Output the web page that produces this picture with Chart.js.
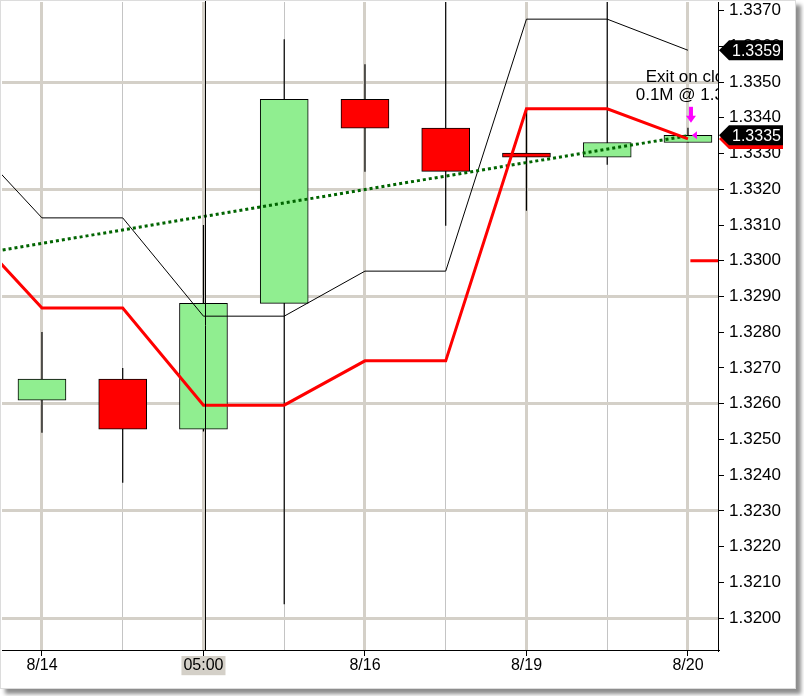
<!DOCTYPE html>
<html>
<head>
<meta charset="utf-8">
<title>Candles 8/14 - 8/20</title>
<script src="https://cdn.jsdelivr.net/npm/chart.js@4"></script>
<style>
  html, body { margin: 0; padding: 0; background: #fff; }
  #panel { position: absolute; left: 0; top: 0; width: 794px; height: 687px;
           border: 1px solid #dcdcdc; background: #fff;
           box-shadow: 5px 5px 4px rgba(0, 0, 0, 0.45); }
  canvas { display: block; }
</style>
</head>
<body>
<div id="panel"><canvas id="chart" width="794" height="687"></canvas></div>
<script>
// one entry per bar, blank = unlabeled bar (thin grid line)
const tickLabels = ['8/14', '', '05:00', '', '8/16', '', '8/19', '', '8/20'];
const openVals  = [1.32610, 1.32669, 1.32529, 1.32881, 1.33452, 1.33371, 1.33301, 1.33290, 1.33331];
const highVals  = [1.32801, 1.32700, 1.33100, 1.33620, 1.33550, 1.33780, 1.33422, 1.33780, 1.33372];
const lowVals   = [1.32519, 1.32379, 1.32522, 1.32039, 1.33249, 1.33098, 1.33140, 1.33269, 1.33331];
const closeVals = [1.32669, 1.32529, 1.32881, 1.33452, 1.33371, 1.33250, 1.33290, 1.33331, 1.33351];

// indicator lines; first value is the bar before 8/14 (off the left edge)
const lineIdx   = [-1, 0, 1, 2, 3, 4, 5, 6, 7, 8];
const upperBand = [1.33363, 1.33120, 1.33120, 1.32845, 1.32845, 1.32971, 1.32971, 1.33676, 1.33676, 1.33589];
const stopLine  = [1.33112, 1.32868, 1.32868, 1.32596, 1.32596, 1.32720, 1.32720, 1.33425, 1.33425, 1.33341];
const trendIdx  = [-1, 8];
const trendVals = [1.33011, 1.33350];
const nextStopIdx  = [8.03, 8.6];
const nextStopVals = [1.3300, 1.3300];

const yTicks = [1.3200, 1.3210, 1.3220, 1.3230, 1.3240, 1.3250, 1.3260, 1.3270, 1.3280,
                1.3290, 1.3300, 1.3310, 1.3320, 1.3330, 1.3340, 1.3350, 1.3360, 1.3370];

const sessionIdx = tickLabels.indexOf('05:00');
const exitIdx = 8;
const exitText = ['Exit on close', '0.1M @ 1.3335'];

const UP = '#90ee90';
const DOWN = '#ff0000';
const GRID = '#d4d0c8';

const idx = tickLabels.map((t, i) => i);
const wickData = [];
idx.forEach(i => {
  wickData.push({ x: i, y: lowVals[i] }, { x: i, y: highVals[i] }, { x: i, y: null });
});

const isMajor = v => !!tickLabels[v];
const isHeavy = v => Math.round((v - yTicks[0]) * 1000) % 3 === 0;

function drawTag(ctx, area, y, fill, text) {
  const x0 = area.right + 1;
  ctx.beginPath();
  ctx.moveTo(x0, y);
  ctx.lineTo(x0 + 10, y - 10);
  ctx.lineTo(x0 + 64, y - 10);
  ctx.lineTo(x0 + 64, y + 10);
  ctx.lineTo(x0 + 10, y + 10);
  ctx.closePath();
  ctx.fillStyle = fill;
  ctx.fill();
  if (text) {
    ctx.fillStyle = '#fff';
    ctx.font = '16px "Liberation Sans", Arial, sans-serif';
    ctx.textAlign = 'left';
    ctx.textBaseline = 'middle';
    ctx.fillText(text, x0 + 13, y + 1);
  }
}

const extras = {
  id: 'extras',
  afterDatasetsDraw(chart) {
    const { ctx, chartArea: a, scales: { x, y } } = chart;
    ctx.save();
    // session break line at 05:00
    const sx = Math.round(x.getPixelForValue(sessionIdx)) + 2.5;
    ctx.strokeStyle = '#000';
    ctx.lineWidth = 1;
    ctx.beginPath();
    ctx.moveTo(sx, 0);
    ctx.lineTo(sx, a.bottom);
    ctx.stroke();

    // exit annotation, clipped to the plot
    const ex = x.getPixelForValue(exitIdx);
    const hy = y.getPixelForValue(highVals[exitIdx]);
    const cy = y.getPixelForValue(closeVals[exitIdx]);
    ctx.beginPath();
    ctx.rect(a.left, a.top, a.right - a.left, a.bottom - a.top);
    ctx.clip();
    ctx.fillStyle = '#000';
    ctx.font = '17px "Liberation Sans", Arial, sans-serif';
    ctx.textAlign = 'center';
    ctx.textBaseline = 'alphabetic';
    ctx.fillText(exitText[0], ex + 6, hy - 46);
    ctx.fillText(exitText[1], ex + 6, hy - 28);

    // magenta down arrow and left marker
    ctx.fillStyle = '#ff00ff';
    const ax = ex + 3;
    const tip = hy - 5;
    ctx.fillRect(ax - 2, tip - 16, 4, 10);
    ctx.beginPath();
    ctx.moveTo(ax - 5, tip - 7);
    ctx.lineTo(ax + 5, tip - 7);
    ctx.lineTo(ax, tip);
    ctx.closePath();
    ctx.fill();
    ctx.beginPath();
    ctx.moveTo(ex + 4, cy);
    ctx.lineTo(ex + 9, cy - 4);
    ctx.lineTo(ex + 9, cy + 4);
    ctx.closePath();
    ctx.fill();
    ctx.restore();
  },
  afterDraw(chart) {
    const { ctx, chartArea: a, scales: { y } } = chart;
    ctx.save();
    const last = lineIdx.length - 1;
    drawTag(ctx, a, y.getPixelForValue(upperBand[last]), '#000', upperBand[last].toFixed(4));
    drawTag(ctx, a, y.getPixelForValue(stopLine[last]), DOWN, '');
    const c = closeVals[closeVals.length - 1];
    drawTag(ctx, a, y.getPixelForValue(c), '#000', c.toFixed(4));
    ctx.restore();
  }
};

Chart.defaults.font.family = '"Liberation Sans", Arial, sans-serif';
Chart.defaults.color = '#000';

new Chart(document.getElementById('chart'), {
  type: 'line',
  data: {
    datasets: [
      {
        type: 'line',
        data: wickData,
        borderColor: '#000',
        borderWidth: 1.2,
        pointRadius: 0,
        spanGaps: false,
        order: 5
      },
      {
        type: 'bar',
        data: idx.map(i => ({ x: i, y: [openVals[i], closeVals[i]] })),
        backgroundColor: idx.map(i => closeVals[i] >= openVals[i] ? UP : DOWN),
        borderColor: '#000',
        borderWidth: 1,
        borderSkipped: false,
        barThickness: 48,
        order: 4
      },
      {
        type: 'line',
        data: lineIdx.map((v, i) => ({ x: v, y: upperBand[i] })),
        borderColor: '#000',
        borderWidth: 1,
        pointRadius: 0,
        order: 3
      },
      {
        type: 'line',
        data: trendIdx.map((v, i) => ({ x: v, y: trendVals[i] })),
        borderColor: '#006400',
        borderWidth: 3,
        borderDash: [3, 3],
        pointRadius: 0,
        order: 2
      },
      {
        type: 'line',
        data: lineIdx.map((v, i) => ({ x: v, y: stopLine[i] })),
        borderColor: DOWN,
        borderWidth: 3,
        pointRadius: 0,
        order: 1
      },
      {
        type: 'line',
        data: nextStopIdx.map((v, i) => ({ x: v, y: nextStopVals[i] })),
        borderColor: DOWN,
        borderWidth: 3,
        pointRadius: 0,
        order: 0
      }
    ]
  },
  options: {
    responsive: false,
    animation: false,
    devicePixelRatio: 1,
    layout: { padding: { left: 1, top: 1, right: 0, bottom: 0 } },
    plugins: { legend: { display: false }, tooltip: { enabled: false } },
    scales: {
      x: {
        type: 'linear',
        min: -0.495,
        max: 8.372,
        offset: false,
        afterBuildTicks: s => { s.ticks = idx.map(v => ({ value: v })); },
        afterFit: s => { s.height = 38; s.paddingLeft = 0; s.paddingRight = 0; },
        grid: {
          offset: false,
          color: c => isMajor(c.tick.value) ? GRID : '#c4c4c4',
          lineWidth: c => isMajor(c.tick.value) ? 3 : 1,
          tickColor: c => isMajor(c.tick.value) ? '#000' : 'rgba(0,0,0,0)',
          tickWidth: 1,
          tickLength: 6
        },
        border: { color: '#000', width: 1 },
        ticks: {
          autoSkip: false,
          maxRotation: 0,
          padding: 0,
          font: { size: 16 },
          callback: v => tickLabels[v] || '',
          showLabelBackdrop: true,
          backdropColor: c => c.tick.value === sessionIdx ? GRID : 'rgba(0,0,0,0)',
          backdropPadding: { top: 0, bottom: 0, left: 2, right: 2 }
        }
      },
      y: {
        type: 'linear',
        position: 'right',
        min: 1.31911,
        max: 1.33724,
        afterBuildTicks: s => { s.ticks = yTicks.map(v => ({ value: v })); },
        afterFit: s => { s.width = 77; s.paddingTop = 0; s.paddingBottom = 0; },
        grid: {
          color: c => isHeavy(c.tick.value) ? GRID : 'rgba(0,0,0,0)',
          lineWidth: 3,
          tickColor: '#000',
          tickWidth: 1,
          tickLength: 6
        },
        border: { color: '#000', width: 1 },
        ticks: {
          autoSkip: false,
          padding: 5,
          font: { size: 17 },
          callback: v => v.toFixed(4)
        }
      }
    }
  },
  plugins: [extras]
});
</script>
</body>
</html>
